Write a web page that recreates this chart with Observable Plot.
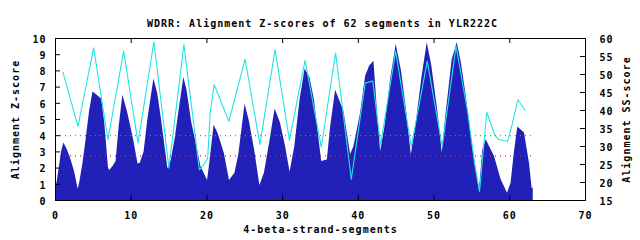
<!DOCTYPE html>
<html>
<head>
<meta charset="utf-8">
<script src="https://cdn.jsdelivr.net/npm/d3@7"></script>
<script src="https://cdn.jsdelivr.net/npm/@observablehq/plot@0.6"></script>
<style>
  html, body { margin: 0; padding: 0; background: #fff; }
  svg { display: block; }
</style>
</head>
<body>
<div id="chart"></div>
<script>
const title = "WDRR: Alignment Z-scores of 62 segments in YLR222C";
const xLabel = "4-beta-strand-segments";
const yLabel = "Alignment Z-score";
const y2Label = "Alignment SS-score";

const xTicks = [0, 10, 20, 30, 40, 50, 60, 70];
const zTicks = [0, 1, 2, 3, 4, 5, 6, 7, 8, 9, 10];
const ssTicks = [15, 20, 25, 30, 35, 40, 45, 50, 55, 60];

// Z-score profile (filled area)
const zPos = [0, 0.2, 0.5, 0.8, 1.1, 1.5, 2.0, 2.5, 3.0, 3.2, 3.6, 4.0, 4.5, 4.95, 5.5, 6.1, 6.5, 7.0, 7.15, 7.6, 8.0, 8.4, 8.9, 9.5, 10.3, 10.9, 11.2, 11.7, 12.2, 13.0, 13.5, 14.0, 14.5, 14.85, 15.3, 15.8, 16.4, 16.95, 17.35, 18.0, 18.67, 19.2, 20.08, 20.3, 20.95, 21.5, 22.3, 22.98, 23.7, 24.2, 25.04, 25.6, 26.3, 27.0, 27.6, 28.3, 29.0, 29.7, 30.4, 30.98, 31.6, 32.3, 32.96, 33.6, 34.2, 34.8, 35.16, 35.9, 36.35, 37.0, 38.1, 38.98, 39.42, 40.3, 40.96, 41.5, 42.06, 42.5, 42.94, 43.5, 44.3, 45.0, 45.7, 46.4, 46.99, 47.6, 48.4, 49.1, 49.7, 50.5, 51.08, 51.6, 52.4, 53.06, 53.6, 54.25, 54.7, 54.9, 55.57, 56.0, 56.44, 56.88, 57.98, 58.86, 59.7, 60.17, 60.6, 61.06, 61.94, 62.6, 62.95, 63.1];
const zScore = [0.7, 1.1, 2.0, 3.0, 3.55, 3.2, 2.6, 1.8, 0.7, 1.1, 2.2, 3.6, 5.5, 6.7, 6.5, 6.25, 4.8, 2.0, 1.85, 2.1, 2.4, 4.5, 6.5, 5.5, 3.8, 2.25, 2.3, 3.0, 5.0, 7.5, 6.6, 5.0, 3.2, 1.95, 2.5, 3.8, 5.8, 7.6, 6.85, 4.8, 3.34, 2.1, 1.24, 2.0, 4.64, 4.1, 2.9, 1.24, 1.68, 2.8, 5.94, 4.9, 3.1, 0.93, 1.7, 3.6, 5.65, 4.8, 3.3, 1.75, 3.3, 6.2, 8.12, 7.6, 6.2, 3.8, 2.4, 2.5, 4.58, 6.8, 5.5, 2.82, 3.34, 5.4, 7.67, 8.3, 8.6, 5.6, 3.03, 4.5, 7.6, 9.63, 8.0, 5.4, 2.82, 4.6, 7.6, 9.73, 8.3, 5.5, 2.93, 5.4, 8.7, 9.73, 8.5, 6.43, 4.78, 3.96, 1.9, 0.66, 3.13, 3.75, 2.72, 1.28, 0.45, 1.07, 2.93, 4.53, 4.16, 2.3, 0.76, 0.76];

// SS-score profile (line, right axis)
const ssPos = [0.99, 2.97, 5.04, 6.93, 9.0, 10.9, 13.0, 14.98, 16.96, 19.0, 19.6, 20.1, 20.43, 20.95, 22.9, 25.04, 27.0, 29.0, 30.9, 32.96, 35.1, 37.0, 39.07, 40.9, 41.9, 42.94, 44.92, 46.99, 49.1, 51.08, 52.9, 54.46, 55.34, 56.0, 56.97, 57.98, 58.5, 59.7, 60.3, 61.06, 62.03];
const ssScore = [50.6, 35.6, 57.4, 31.9, 56.5, 31.0, 59.1, 24.0, 58.3, 23.5, 25.0, 26.8, 39.3, 47.2, 37.0, 54.3, 30.5, 56.9, 31.7, 53.9, 29.8, 56.0, 20.9, 47.6, 48.2, 30.5, 56.5, 30.0, 53.7, 30.0, 57.9, 39.3, 25.4, 17.5, 39.5, 33.3, 32.0, 31.4, 36.0, 43.0, 40.0];

const thresholds = [4, 2.75];
const thresholdColors = ["#22bb22", "#dd2222"];
const thresholdEnd = 63;

const zData = zPos.map((x, i) => ({x, z: zScore[i]}));
const ssData = ssPos.map((x, i) => ({x, ss: ssScore[i]}));
const ssToZ = s => (s - 15) / 4.5;

const W = 640, H = 240, ML = 55, MR = 55, MT = 38, MB = 40;
const fw = W - ML - MR, fh = H - MT - MB, tl = 5;

const chart = Plot.plot({
  width: W, height: H,
  marginLeft: ML, marginRight: MR, marginTop: MT, marginBottom: MB,
  style: {fontFamily: "'DejaVu Sans Mono', monospace", fontSize: "10px", fontWeight: "bold", letterSpacing: "1px", color: "black", background: "white", overflow: "visible"},
  x: {domain: [0, 70]},
  y: {domain: [0, 10]},
  marks: [
    Plot.areaY(zData, {x: "x", y: "z", fill: "#2121b9"}),
    Plot.lineY(ssData, {x: "x", y: d => ssToZ(d.ss), stroke: "#22e4e4", strokeWidth: 1.1}),
    Plot.ruleY([thresholds[0]], {x1: 0, x2: thresholdEnd, stroke: thresholdColors[0], strokeDasharray: "1,4", strokeWidth: 1.2}),
    Plot.ruleY([thresholds[1]], {x1: 0, x2: thresholdEnd, stroke: thresholdColors[1], strokeDasharray: "1,4", strokeWidth: 1.2}),
    Plot.frame({stroke: "black"}),
    Plot.tickY(zTicks, {y: d => d, insetRight: fw - tl, stroke: "black"}),
    Plot.tickY(ssTicks, {y: d => ssToZ(d), insetLeft: fw - tl, stroke: "black"}),
    Plot.tickX(xTicks, {x: d => d, insetTop: fh - tl, stroke: "black"}),
    Plot.tickX(xTicks, {x: d => d, insetBottom: fh - tl, stroke: "black"}),
    Plot.axisX({ticks: xTicks, tickSize: 0, tickPadding: 11, label: null}),
    Plot.axisY({ticks: zTicks, tickSize: 0, tickPadding: 9, label: null, dy: 1}),
    Plot.axisY({anchor: "right", ticks: ssTicks.map(ssToZ), tickFormat: z => String(Math.round(z * 4.5 + 15)), tickSize: 0, tickPadding: 14, label: null, dy: 1}),
    Plot.text([title], {text: d => d, frameAnchor: "top", textAnchor: "middle", dy: -19, dx: 2}),
    Plot.text([xLabel], {text: d => d, frameAnchor: "bottom", textAnchor: "middle", dy: 32}),
    Plot.text([yLabel], {text: d => d, frameAnchor: "left", textAnchor: "middle", rotate: -90, dx: -40}),
    Plot.text([y2Label], {text: d => d, frameAnchor: "right", textAnchor: "middle", rotate: -90, dx: 41})
  ]
});
document.getElementById("chart").append(chart);
</script>
</body>
</html>
